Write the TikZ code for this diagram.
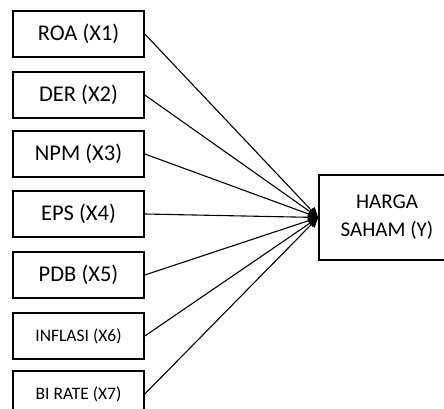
\documentclass[tikz,border=0pt]{standalone}
\usepackage{fontspec}
\setmainfont{Carlito}
\usepackage{tikz}
\usetikzlibrary{arrows.meta}

\tikzset{
  varbox/.style={draw, line width=1.6pt, minimum width=131pt, minimum height=46pt, font=\fontsize{22.5}{26}\selectfont},
  smallvar/.style={font=\fontsize{17.5}{20}\selectfont},
  link/.style={-{Triangle[length=10pt,width=9pt]}, line width=1.1pt}
}

\begin{document}
\begin{tikzpicture}[x=1pt,y=-1pt]
				\useasboundingbox (0,0) rectangle (444,409);
				\clip (0,0) rectangle (444,409);
				
				% Independent variables
				\node[varbox] (x1) at (78.5,34) {ROA (X1)};
				\node[varbox] (x2) at (78.5,95) {DER (X2)};
				\node[varbox] (x3) at (78.5,154) {NPM (X3)};
				\node[varbox] (x4) at (78.5,214) {EPS (X4)};
				\node[varbox] (x5) at (78.5,275) {PDB (X5)};
				\node[varbox, smallvar] (x6) at (78.5,336) {INFLASI (X6)};
				\node[varbox, smallvar] (x7) at (78.5,394) {BI RATE (X7)};
				
				% Dependent variable
				\node[draw, line width=1.6pt, minimum width=136pt, minimum height=85pt, align=center,
				      font=\fontsize{21}{28}\selectfont] (y) at (387,217.5) {HARGA\\SAHAM (Y)};
				
				% Arrows
				\foreach \i in {1,...,7}
				  \draw[link] (x\i.east) -- (y.west);
				
			\end{tikzpicture}
\end{document}
